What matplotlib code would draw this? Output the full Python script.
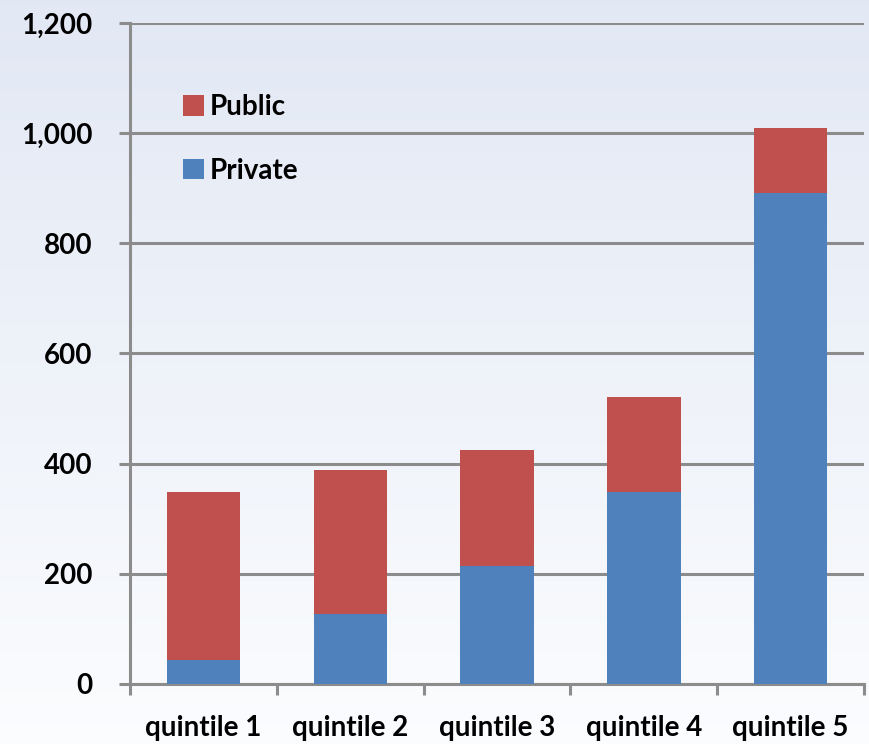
import numpy as np
import matplotlib
matplotlib.use('Agg')
import matplotlib.pyplot as plt

# values
categories = ['quintile 1', 'quintile 2', 'quintile 3', 'quintile 4', 'quintile 5']
private = [44, 127, 214, 348, 891]
public = [304, 261, 211, 173, 118]
yticks = [0, 200, 400, 600, 800, 1000, 1200]

blue = '#4f81bd'
red = '#c0504d'
grey = '#8c8c8c'

plt.rcParams['font.family'] = ['Lato', 'DejaVu Sans']
plt.rcParams['font.weight'] = 'bold'

fig = plt.figure(figsize=(8.69, 7.44), dpi=100)

# soft blue-to-white gradient behind everything
bg = fig.add_axes([0, 0, 1, 1], zorder=-10)
grad = np.linspace(0, 1, 256).reshape(-1, 1)
top_c = np.array([0.886, 0.910, 0.957])
bot_c = np.array([0.985, 0.990, 0.998])
img = top_c + (bot_c - top_c) * grad[:, :, None]
bg.imshow(img, aspect='auto', extent=[0, 1, 0, 1])
bg.axis('off')

ax = fig.add_axes([130 / 869, 1 - 684 / 744, 734 / 869, 661 / 744])
ax.patch.set_alpha(0)

x = np.arange(len(categories))
ax.bar(x, private, width=0.5, color=blue, label='Private', zorder=3)
ax.bar(x, public, width=0.5, bottom=private, color=red, label='Public', zorder=3)

ax.set_xlim(-0.5, 4.5)
ax.set_ylim(0, 1200)
ax.set_yticks(yticks)
ax.set_yticklabels(['{:,}'.format(v) for v in yticks])
ax.yaxis.grid(True, color=grey, linewidth=2.2, zorder=1)
ax.set_axisbelow(True)

ax.set_xticks(x)
ax.set_xticklabels(categories)
ax.set_xticks(np.arange(-0.5, 5, 1), minor=True)
ax.tick_params(axis='x', which='major', length=0, pad=22, labelsize=20)
ax.tick_params(axis='x', which='minor', length=8, width=2.2, color=grey)
ax.tick_params(axis='y', length=8, width=2.2, color=grey, pad=19, labelsize=20)

for s in ['top', 'right']:
    ax.spines[s].set_visible(False)
for s in ['left', 'bottom']:
    ax.spines[s].set_color(grey)
    ax.spines[s].set_linewidth(2.2)

h, l = ax.get_legend_handles_labels()
ax.legend(h[::-1], l[::-1], loc='upper left', bbox_to_anchor=(0.038, 0.93),
          frameon=False, fontsize=20, handlelength=0.75, handleheight=0.75,
          handletextpad=0.2, labelspacing=1.35)

fig.savefig('out.png', dpi=100)
